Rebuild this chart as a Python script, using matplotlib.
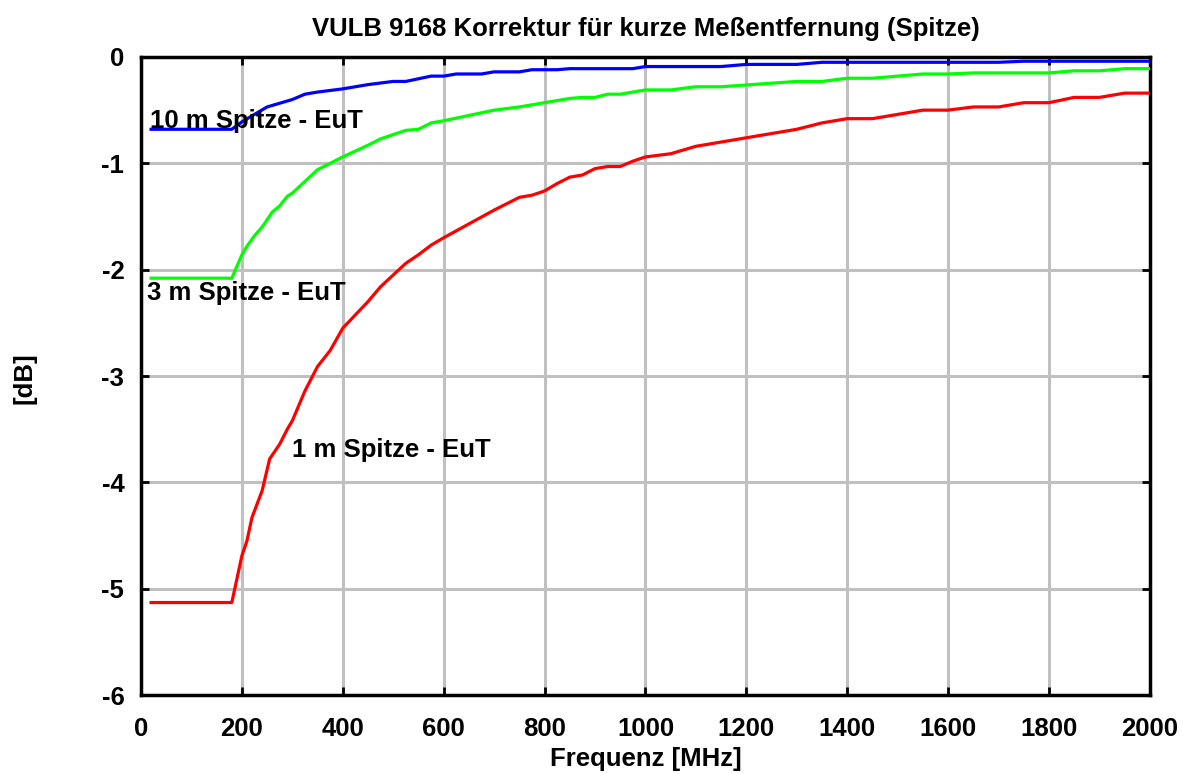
import matplotlib.pyplot as plt

plt.rcParams['font.family'] = ['Liberation Sans', 'DejaVu Sans']
plt.rcParams['font.weight'] = 'bold'
plt.rcParams['axes.unicode_minus'] = False

# 10 m Spitze - EuT
f_10m = [20, 180, 200, 250, 300, 325, 350, 400, 450, 500, 525, 575, 600, 625, 675, 700,
         750, 775, 825, 850, 975, 1000, 1150, 1200, 1300, 1350, 1700, 1750, 2000]
v_10m = [-0.68, -0.68, -0.61, -0.47, -0.40, -0.35, -0.33, -0.30, -0.26, -0.23, -0.23, -0.18,
         -0.18, -0.16, -0.16, -0.14, -0.14, -0.12, -0.12, -0.11, -0.11, -0.09, -0.09, -0.07,
         -0.07, -0.05, -0.05, -0.04, -0.04]

# 3 m Spitze - EuT
f_3m = [20, 180, 190, 200, 210, 225, 240, 250, 260, 275, 290, 300, 325, 350, 375, 400, 450,
        475, 500, 525, 550, 575, 600, 650, 700, 750, 800, 850, 875, 900, 925, 950, 1000, 1050,
        1100, 1150, 1300, 1350, 1400, 1450, 1550, 1600, 1650, 1800, 1850, 1900, 1950, 2000]
v_3m = [-2.08, -2.08, -1.97, -1.86, -1.78, -1.68, -1.60, -1.53, -1.46, -1.40, -1.31, -1.28,
        -1.17, -1.06, -1.00, -0.94, -0.83, -0.77, -0.73, -0.69, -0.68, -0.62, -0.60, -0.55,
        -0.50, -0.47, -0.43, -0.39, -0.38, -0.38, -0.35, -0.35, -0.31, -0.31, -0.28, -0.28,
        -0.23, -0.23, -0.20, -0.20, -0.16, -0.16, -0.15, -0.15, -0.13, -0.13, -0.11, -0.11]

# 1 m Spitze - EuT
f_1m = [20, 180, 190, 200, 210, 220, 240, 255, 275, 290, 300, 325, 350, 375, 400, 450, 475,
        500, 525, 550, 575, 600, 650, 700, 750, 775, 800, 825, 850, 875, 900, 925, 950, 975,
        1000, 1050, 1100, 1200, 1300, 1350, 1400, 1450, 1550, 1600, 1650, 1700, 1750, 1800,
        1850, 1900, 1950, 2000]
v_1m = [-5.13, -5.13, -4.91, -4.69, -4.55, -4.33, -4.08, -3.78, -3.64, -3.50, -3.42, -3.14,
        -2.91, -2.76, -2.55, -2.30, -2.16, -2.05, -1.94, -1.86, -1.77, -1.70, -1.57, -1.44,
        -1.32, -1.30, -1.26, -1.19, -1.13, -1.11, -1.05, -1.03, -1.03, -0.98, -0.94, -0.91,
        -0.84, -0.76, -0.68, -0.62, -0.58, -0.58, -0.50, -0.50, -0.47, -0.47, -0.43, -0.43,
        -0.38, -0.38, -0.34, -0.34]

fig = plt.figure(figsize=(11.83, 7.74), dpi=100)
ax = fig.add_axes([0.1192, 0.102, 0.8528, 0.8244])

ax.plot(f_10m, v_10m, color='#0000ff', linewidth=2.3, zorder=3)
ax.plot(f_3m, v_3m, color='#00ff00', linewidth=2.3, zorder=3)
ax.plot(f_1m, v_1m, color='#ff0000', linewidth=2.3, zorder=3)

ax.text(18, -0.60, '10 m Spitze - EuT', fontsize=18.5, fontweight='bold', va='center', zorder=4)
ax.text(12, -2.22, '3 m Spitze - EuT', fontsize=18.5, fontweight='bold', va='center', zorder=4)
ax.text(300, -3.70, '1 m Spitze - EuT', fontsize=18.5, fontweight='bold', va='center', zorder=4)

ax.set_xlim(0, 2000)
ax.set_ylim(-6, 0)
ax.set_xticks(range(0, 2001, 200))
ax.set_yticks(range(-6, 1))
ax.grid(True, color='#c0c0c0', linewidth=2.2)
ax.set_axisbelow(True)
ax.tick_params(direction='in', length=6, width=2, top=True, right=True, labelsize=18.5)
ax.tick_params(axis='x', pad=16)
ax.tick_params(axis='y', pad=12)
for s in ax.spines.values():
    s.set_linewidth(2.5)

ax.set_title('VULB 9168 Korrektur für kurze Meßentfernung (Spitze)',
             fontsize=18.5, fontweight='bold', pad=15)
ax.set_xlabel('Frequenz [MHz]', fontsize=18.5, fontweight='bold', labelpad=4)
fig.text(25 / 1183, 1 - 378 / 774, '[dB]', fontsize=18.5, fontweight='bold',
         rotation=90, ha='center', va='center')

fig.savefig('out.png', dpi=100)
